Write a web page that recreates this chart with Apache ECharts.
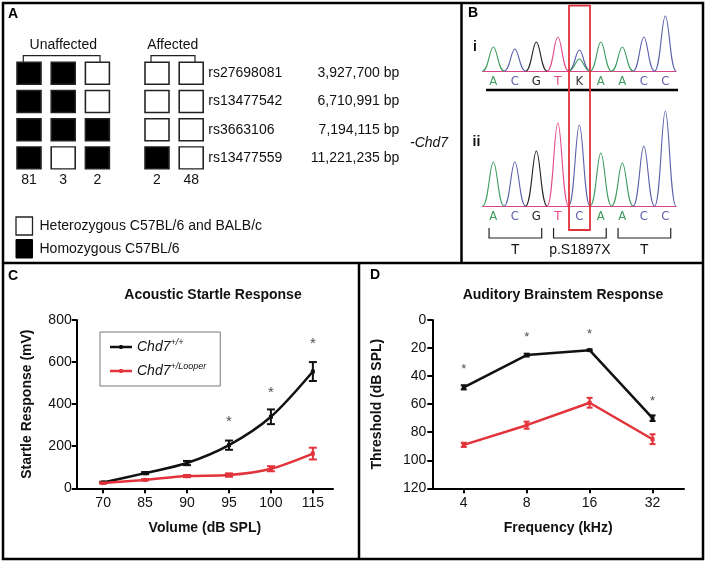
<!DOCTYPE html>
<html>
<head>
<meta charset="utf-8" />
<script src="https://cdn.jsdelivr.net/npm/echarts@6.0.0/dist/echarts.min.js"></script>
<style>
  html, body { margin: 0; padding: 0; background: #fff; }
  #main { width: 708px; height: 563px; }
</style>
</head>
<body>
<div id="main"></div>
<script>
// ---- panel A: genotypes ----
var snps = ['rs27698081', 'rs13477542', 'rs3663106', 'rs13477559'];
var snpPos = ['3,927,700 bp', '6,710,991 bp', '7,194,115 bp', '11,221,235 bp'];
var unaffectedCounts = ['81', '3', '2'];
var affectedCounts = ['2', '48'];
// 1 = homozygous C57BL/6 (black), 0 = heterozygous (white); one row per SNP
var unaffectedGeno = [[1, 1, 0], [1, 1, 0], [1, 1, 1], [1, 0, 1]];
var affectedGeno = [[0, 0], [0, 0], [0, 0], [1, 0]];

// ---- panel B: chromatograms ----
var seqI = ['A', 'C', 'G', 'T', 'K', 'A', 'A', 'C', 'C'];
var seqII = ['A', 'C', 'G', 'T', 'C', 'A', 'A', 'C', 'C'];
// [base position, peak height, base]
var peaksI = [[0, 24, 'A'], [1, 22, 'C'], [2, 29, 'G'], [3, 34, 'T'], [4, 21, 'C'], [4, 12, 'A'],
              [5, 29, 'A'], [6, 24, 'A'], [7, 34, 'C'], [8, 55, 'C']];
var peaksII = [[0, 44, 'A'], [1, 44, 'C'], [2, 55, 'G'], [3, 83, 'T'], [4, 81, 'C'],
               [5, 53, 'A'], [6, 43, 'A'], [7, 60, 'C'], [8, 95, 'C']];
var codons = [[-0.2, 2.25, 'T'], [2.8, 5.25, 'p.S1897X'], [5.8, 8.25, 'T']];

// ---- panel C: acoustic startle ----
var volumes = ['70', '85', '90', '95', '100', '115'];
var wildC = [28, 72, 120, 205, 340, 555];
var wildErrC = [3, 5, 10, 22, 35, 45];
var looperC = [25, 40, 58, 63, 93, 165];
var looperErrC = [3, 3, 5, 8, 12, 28];
var starsC = [[3, 335], [4, 473], [5, 706]];

// ---- panel D: ABR ----
var freqs = ['4', '8', '16', '32'];
var wildD = [48, 25, 21.5, 70];
var wildErrD = [1.5, 1, 0.5, 2];
var looperD = [89, 75, 59, 85];
var looperErrD = [1.5, 2.5, 3.5, 3.5];
var starsD = [[0, 33], [1, 10], [2, 8], [3, 56]];

var FONT = "'Liberation Sans', Arial, Helvetica, sans-serif";
var NARROW = "'Liberation Sans Narrow', 'DejaVu Sans Condensed', 'Liberation Sans', sans-serif";
var BLACK = '#111';
var RED = '#e2333b';
var baseColor = { A: '#3c9c5e', C: '#5b60aa', G: '#222', T: '#e2478a', K: '#333' };

function idx(n) { var a = []; for (var i = 0; i < n; i++) a.push(i); return a; }
function xy(arr) { return arr.map(function (v, i) { return [i, v]; }); }
function errData(vals, errs) { return vals.map(function (v, i) { return [i, v - errs[i], v + errs[i]]; }); }

function errRender(cap) {
  return function (params, api) {
    var x = api.value(0);
    var a = api.coord([x, api.value(1)]);
    var b = api.coord([x, api.value(2)]);
    var st = { stroke: api.visual('color'), lineWidth: 2 };
    return { type: 'group', children: [
      { type: 'line', shape: { x1: a[0], y1: a[1], x2: b[0], y2: b[1] }, style: st },
      { type: 'line', shape: { x1: a[0] - cap, y1: a[1], x2: a[0] + cap, y2: a[1] }, style: st },
      { type: 'line', shape: { x1: b[0] - cap, y1: b[1], x2: b[0] + cap, y2: b[1] }, style: st }
    ] };
  };
}

function peakRender(list) {
  return function (params, api) {
    var c = api.value(0), h = api.value(1);
    var l = api.coord([c - 0.5, 0]), t = api.coord([c, h]), r = api.coord([c + 0.5, 0]);
    var w = t[0] - l[0];
    var d = 'M' + l[0] + ',' + l[1] +
      ' C' + (l[0] + w * 0.55) + ',' + l[1] + ' ' + (t[0] - w * 0.35) + ',' + t[1] + ' ' + t[0] + ',' + t[1] +
      ' C' + (t[0] + w * 0.35) + ',' + t[1] + ' ' + (r[0] - w * 0.55) + ',' + r[1] + ' ' + r[0] + ',' + r[1];
    return { type: 'path', shape: { pathData: d },
      style: { stroke: baseColor[list[params.dataIndex][2]], fill: 'none', lineWidth: 1.1 } };
  };
}

function codonRender(params, api) {
  var a = api.coord([api.value(0), 0]);
  var b = api.coord([api.value(1), 0]);
  var y1 = a[1] + 22, y2 = a[1] + 32;
  return { type: 'group', children: [
    { type: 'polyline', shape: { points: [[a[0], y1], [a[0], y2], [b[0], y2], [b[0], y1]] },
      style: { stroke: '#222', fill: 'none', lineWidth: 1.2 } },
    { type: 'text', style: { text: codons[params.dataIndex][2], x: (a[0] + b[0]) / 2, y: a[1] + 44,
      align: 'center', verticalAlign: 'middle', font: '14px ' + FONT, fill: '#111' } }
  ] };
}

var letterRich = {};
Object.keys(baseColor).forEach(function (k) {
  letterRich[k] = { color: baseColor[k], fontSize: 13, fontFamily: NARROW };
});

function genoData(geno) {
  var out = [];
  geno.forEach(function (row, r) {
    row.forEach(function (g, c) {
      out.push({ value: [c, r], itemStyle: { color: g ? '#000' : '#fff' } });
    });
  });
  return out;
}

var hidden = { axisLine: { show: false }, axisTick: { show: false }, splitLine: { show: false } };
function axisStyle() {
  return {
    axisLine: { show: true, onZero: false, lineStyle: { color: '#000', width: 2 } },
    axisTick: { show: true, length: 5, lineStyle: { color: '#000', width: 2 } },
    splitLine: { show: false },
    nameLocation: 'middle',
    nameTextStyle: { fontWeight: 'bold', fontSize: 14, color: '#111', fontFamily: FONT }
  };
}
function merge(a, b) { for (var k in b) a[k] = b[k]; return a; }

var chart = echarts.init(document.getElementById('main'));

var option = {
  animation: false,
  textStyle: { fontFamily: FONT },
  title: [
    { text: 'Acoustic Startle Response', left: 208, top: 283, textAlign: 'center',
      textStyle: { fontSize: 14, fontWeight: 'bold', color: '#111', fontFamily: FONT } },
    { text: 'Auditory Brainstem Response', left: 558, top: 283, textAlign: 'center',
      textStyle: { fontSize: 14, fontWeight: 'bold', color: '#111', fontFamily: FONT } }
  ],
  legend: {
    data: ['Chd7+/+', 'Chd7+/Looper'],
    orient: 'vertical', left: 100, top: 332,
    padding: [6, 14, 8, 10], itemGap: 8, itemWidth: 22, itemHeight: 4,
    icon: 'path://M0,0.7H22V3.3H0Z M9.5,0H12.5V4H9.5Z',
    borderColor: '#777', borderWidth: 1, selectedMode: false,
    formatter: function (name) {
      return '{i|Chd7}{s|' + name.slice(4) + '}';
    },
    textStyle: {
      rich: {
        i: { fontStyle: 'italic', fontSize: 14, lineHeight: 18, color: '#111', fontFamily: FONT },
        s: { fontStyle: 'italic', fontSize: 9, lineHeight: 9, verticalAlign: 'top', color: '#111', fontFamily: FONT }
      }
    }
  },
  grid: [
    { left: 76.7, top: 320, width: 256.3, height: 168.3 },   // C
    { left: 432.3, top: 320, width: 251.7, height: 168.3 },  // D
    { left: 11.9, top: 59.2, width: 102.6, height: 112.8 },  // A unaffected
    { left: 139.9, top: 59.2, width: 68.4, height: 112.8 },  // A affected
    { left: 482.6, top: 11, width: 193.5, height: 60 },      // B i
    { left: 482.6, top: 106, width: 193.5, height: 100 }     // B ii
  ],
  xAxis: [
    merge(axisStyle(), { gridIndex: 0, type: 'value', min: -0.63, max: 5.48,
      name: 'Volume (dB SPL)', nameGap: 33,
      axisTick: { show: true, length: 5, customValues: idx(6), lineStyle: { color: '#000', width: 2 } },
      axisLabel: { customValues: idx(6), margin: 8, fontSize: 14, color: '#111',
        formatter: function (v) { return volumes[Math.round(v)]; } } }),
    merge(axisStyle(), { gridIndex: 1, type: 'value', min: -0.5, max: 3.5,
      name: 'Frequency (kHz)', nameGap: 33,
      axisTick: { show: true, length: 5, customValues: idx(4), lineStyle: { color: '#000', width: 2 } },
      axisLabel: { customValues: idx(4), margin: 8, fontSize: 14, color: '#111',
        formatter: function (v) { return freqs[Math.round(v)]; } } }),
    merge({ gridIndex: 2, type: 'category', data: unaffectedCounts,
      axisLabel: { margin: 1, fontSize: 14, color: '#111' } }, hidden),
    merge({ gridIndex: 3, type: 'category', data: affectedCounts,
      axisLabel: { margin: 1, fontSize: 14, color: '#111' } }, hidden),
    merge({ gridIndex: 4, type: 'value', min: -0.5, max: 8.5,
      axisLabel: { customValues: idx(9), margin: 4,
        formatter: function (v) { var b = seqI[Math.round(v)]; return '{' + b + '|' + b + '}'; },
        rich: letterRich } },
      { axisLine: { show: true, onZero: false, lineStyle: { color: '#d8468c', width: 1 } },
        axisTick: { show: false }, splitLine: { show: false } }),
    merge({ gridIndex: 5, type: 'value', min: -0.5, max: 8.5,
      axisLabel: { customValues: idx(9), margin: 4,
        formatter: function (v) { var b = seqII[Math.round(v)]; return '{' + b + '|' + b + '}'; },
        rich: letterRich } },
      { axisLine: { show: true, onZero: false, lineStyle: { color: '#d8468c', width: 1 } },
        axisTick: { show: false }, splitLine: { show: false } })
  ],
  yAxis: [
    merge(axisStyle(), { gridIndex: 0, type: 'value', min: 0, max: 800, interval: 200,
      name: 'Startle Response (mV)', nameGap: 43,
      axisLabel: { margin: 5, fontSize: 14, color: '#111' } }),
    merge(axisStyle(), { gridIndex: 1, type: 'value', min: 0, max: 120, interval: 20, inverse: true,
      name: 'Threshold (dB SPL)', nameGap: 48,
      axisLabel: { margin: 6, fontSize: 14, color: '#111' } }),
    merge({ gridIndex: 2, type: 'category', data: snps, inverse: true, axisLabel: { show: false } }, hidden),
    merge({ gridIndex: 3, type: 'category', data: snps, inverse: true, position: 'right',
      axisLabel: { margin: 0, fontSize: 14, color: '#111',
        formatter: function (v, i) { return '{n|' + v + '}{p|' + snpPos[i] + '}'; },
        rich: {
          n: { width: 108, fontSize: 14, color: '#111', fontFamily: FONT },
          p: { width: 83, align: 'right', fontSize: 14, color: '#111', fontFamily: FONT }
        } } }, hidden),
    merge({ gridIndex: 4, type: 'value', min: 0, max: 60, axisLabel: { show: false } }, hidden),
    merge({ gridIndex: 5, type: 'value', min: 0, max: 100, axisLabel: { show: false } }, hidden)
  ],
  series: [
    // panel C
    { name: 'Chd7+/+', type: 'line', xAxisIndex: 0, yAxisIndex: 0, data: xy(wildC), smooth: 0.3,
      color: BLACK, symbol: 'rect', symbolSize: 4, lineStyle: { width: 2.5 }, z: 3 },
    { name: 'Chd7+/Looper', type: 'line', xAxisIndex: 0, yAxisIndex: 0, data: xy(looperC), smooth: 0.3,
      color: RED, symbol: 'rect', symbolSize: 4, lineStyle: { width: 2.5 }, z: 3 },
    { type: 'custom', xAxisIndex: 0, yAxisIndex: 0, data: errData(wildC, wildErrC),
      renderItem: errRender(4), itemStyle: { color: BLACK }, z: 4 },
    { type: 'custom', xAxisIndex: 0, yAxisIndex: 0, data: errData(looperC, looperErrC),
      renderItem: errRender(4), itemStyle: { color: RED }, z: 4 },
    { type: 'scatter', xAxisIndex: 0, yAxisIndex: 0, data: starsC, symbolSize: 0.1,
      itemStyle: { color: 'transparent' },
      label: { show: true, position: 'inside', formatter: '*', fontSize: 15, color: '#222', offset: [0, 4] } },
    // panel D
    { name: 'Chd7+/+', type: 'line', xAxisIndex: 1, yAxisIndex: 1, data: xy(wildD),
      color: BLACK, symbol: 'rect', symbolSize: 4, lineStyle: { width: 2.5 }, z: 3 },
    { name: 'Chd7+/Looper', type: 'line', xAxisIndex: 1, yAxisIndex: 1, data: xy(looperD),
      color: RED, symbol: 'rect', symbolSize: 4, lineStyle: { width: 2.5 }, z: 3 },
    { type: 'custom', xAxisIndex: 1, yAxisIndex: 1, data: errData(wildD, wildErrD),
      renderItem: errRender(3), itemStyle: { color: BLACK }, z: 4 },
    { type: 'custom', xAxisIndex: 1, yAxisIndex: 1, data: errData(looperD, looperErrD),
      renderItem: errRender(3), itemStyle: { color: RED }, z: 4 },
    { type: 'scatter', xAxisIndex: 1, yAxisIndex: 1, data: starsD, symbolSize: 0.1,
      itemStyle: { color: 'transparent' },
      label: { show: true, position: 'inside', formatter: '*', fontSize: 13, color: '#222', offset: [0, 3] } },
    // panel A
    { type: 'scatter', xAxisIndex: 2, yAxisIndex: 2, data: genoData(unaffectedGeno),
      symbol: 'rect', symbolSize: [24, 22], itemStyle: { borderColor: '#222', borderWidth: 1.5, opacity: 1 } },
    { type: 'scatter', xAxisIndex: 3, yAxisIndex: 3, data: genoData(affectedGeno),
      symbol: 'rect', symbolSize: [24, 22], itemStyle: { borderColor: '#222', borderWidth: 1.5, opacity: 1 } },
    // panel B
    { type: 'custom', xAxisIndex: 4, yAxisIndex: 4, clip: false,
      data: peaksI.map(function (p) { return [p[0], p[1]]; }), renderItem: peakRender(peaksI) },
    { type: 'custom', xAxisIndex: 5, yAxisIndex: 5, clip: false,
      data: peaksII.map(function (p) { return [p[0], p[1]]; }), renderItem: peakRender(peaksII) },
    { type: 'custom', xAxisIndex: 5, yAxisIndex: 5, clip: false,
      data: codons.map(function (c) { return [c[0], c[1]]; }), renderItem: codonRender }
  ],
  graphic: [
    // panel frames
    { type: 'rect', shape: { x: 3, y: 3, width: 700, height: 556 }, style: { fill: 'none', stroke: '#000', lineWidth: 2.5 }, z: 100 },
    { type: 'line', shape: { x1: 3, y1: 263, x2: 703, y2: 263 }, style: { stroke: '#000', lineWidth: 2.5 }, z: 100 },
    { type: 'line', shape: { x1: 461.5, y1: 3, x2: 461.5, y2: 263 }, style: { stroke: '#000', lineWidth: 2.5 }, z: 100 },
    { type: 'line', shape: { x1: 359, y1: 263, x2: 359, y2: 559 }, style: { stroke: '#000', lineWidth: 2.5 }, z: 100 },
    // panel letters
    { type: 'text', x: 13, y: 14, style: { text: 'A', font: 'bold 14px ' + FONT, fill: '#000', align: 'center', verticalAlign: 'middle' } },
    { type: 'text', x: 473, y: 13, style: { text: 'B', font: 'bold 14px ' + FONT, fill: '#000', align: 'center', verticalAlign: 'middle' } },
    { type: 'text', x: 13, y: 276, style: { text: 'C', font: 'bold 14px ' + FONT, fill: '#000', align: 'center', verticalAlign: 'middle' } },
    { type: 'text', x: 375, y: 275, style: { text: 'D', font: 'bold 14px ' + FONT, fill: '#000', align: 'center', verticalAlign: 'middle' } },
    // panel A group brackets
    { type: 'text', x: 63.3, y: 45, style: { text: 'Unaffected', font: '14px ' + FONT, fill: '#111', align: 'center', verticalAlign: 'middle' } },
    { type: 'text', x: 172.7, y: 45, style: { text: 'Affected', font: '14px ' + FONT, fill: '#111', align: 'center', verticalAlign: 'middle' } },
    { type: 'polyline', shape: { points: [[23.3, 62], [23.3, 55.7], [100, 55.7], [100, 62]] }, style: { stroke: '#222', fill: 'none', lineWidth: 1.2 } },
    { type: 'polyline', shape: { points: [[151, 62], [151, 55.7], [195, 55.7], [195, 62]] }, style: { stroke: '#222', fill: 'none', lineWidth: 1.2 } },
    { type: 'text', x: 410, y: 143, style: { text: '-Chd7', font: 'italic 14px ' + FONT, fill: '#111', align: 'left', verticalAlign: 'middle' } },
    // panel A key
    { type: 'rect', shape: { x: 16, y: 217, width: 16.5, height: 18 }, style: { fill: '#fff', stroke: '#222', lineWidth: 1.3 } },
    { type: 'rect', shape: { x: 16, y: 239.5, width: 16.5, height: 18.5 }, style: { fill: '#000', stroke: '#000', lineWidth: 1 } },
    { type: 'text', x: 39.5, y: 226, style: { text: 'Heterozygous C57BL/6 and BALB/c', font: '14px ' + FONT, fill: '#111', verticalAlign: 'middle' } },
    { type: 'text', x: 39.5, y: 249, style: { text: 'Homozygous C57BL/6', font: '14px ' + FONT, fill: '#111', verticalAlign: 'middle' } },
    // panel B extras
    { type: 'text', x: 475, y: 47, style: { text: 'i', font: 'bold 14px ' + FONT, fill: '#111', align: 'center', verticalAlign: 'middle' } },
    { type: 'text', x: 476.5, y: 142, style: { text: 'ii', font: 'bold 14px ' + FONT, fill: '#111', align: 'center', verticalAlign: 'middle' } },
    { type: 'line', shape: { x1: 486, y1: 90, x2: 678, y2: 90 }, style: { stroke: '#000', lineWidth: 2.5 } },
    { type: 'rect', shape: { x: 569, y: 5.7, width: 21, height: 224.3 }, style: { fill: 'none', stroke: '#e2333b', lineWidth: 1.8 }, z: 100 }
  ]
};

chart.setOption(option);
</script>
</body>
</html>
